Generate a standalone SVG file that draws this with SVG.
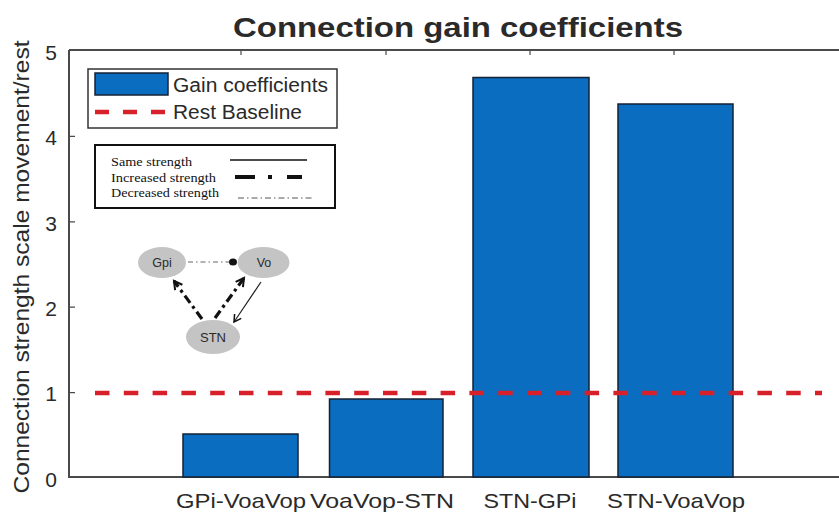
<svg xmlns="http://www.w3.org/2000/svg" width="839" height="517" viewBox="0 0 839 517">
<style>
.sans{font-family:"Liberation Sans",Arial,sans-serif;fill:#2a2a2a}
.serif{font-family:"Liberation Serif","Times New Roman",serif;fill:#111}
.bar{fill:#0a6dbf;stroke:#152235;stroke-width:1.5}
.ax{stroke:#4a4a4a;stroke-width:2;fill:none}
.tick{stroke:#4a4a4a;stroke-width:1.2}
.node{fill:#c4c4c4}
.base{stroke:#d8202a;stroke-width:4.5;fill:none}
</style>
<defs>
<marker id="ah" markerWidth="12" markerHeight="12" refX="9" refY="6" orient="auto" markerUnits="userSpaceOnUse">
<path d="M1,1.5 L9,6 L1,10.5" fill="none" stroke="#111" stroke-width="2"/>
</marker>
<marker id="ahs" markerWidth="10" markerHeight="10" refX="8" refY="5" orient="auto" markerUnits="userSpaceOnUse">
<path d="M1,1 L8,5 L1,9" fill="none" stroke="#111" stroke-width="1.5"/>
</marker>
</defs>
<rect width="839" height="517" fill="#fff"/>
<text class="sans" x="458" y="37" font-size="28" font-weight="bold" text-anchor="middle" fill="#111" textLength="450" lengthAdjust="spacingAndGlyphs">Connection gain coefficients</text>
<g id="axes">
<path class="ax" d="M69,50 H839 M69,50 V477 H839"/>
<path class="tick" d="M69,136.4 h6 M69,221.8 h6 M69,307.2 h6 M69,392.6 h6 M241,50 v5 M386,50 v5 M530,50 v5 M674,50 v5 M241,477 v-5 M386,477 v-5 M530,477 v-5 M674,477 v-5"/>
<g class="sans" font-size="21" text-anchor="end">
<text x="57" y="60">5</text>
<text x="57" y="145">4</text>
<text x="57" y="231">3</text>
<text x="57" y="316">2</text>
<text x="57" y="401">1</text>
<text x="57" y="487">0</text>
</g>
<text class="sans" font-size="22" text-anchor="middle" transform="translate(29,267) rotate(-90)" textLength="453" lengthAdjust="spacingAndGlyphs">Connection strength scale movement/rest</text>
<g class="sans" font-size="21" text-anchor="middle">
<text x="241" y="508" textLength="130" lengthAdjust="spacingAndGlyphs">GPi-VoaVop</text>
<text x="382" y="508" textLength="144" lengthAdjust="spacingAndGlyphs">VoaVop-STN</text>
<text x="530" y="508" textLength="93" lengthAdjust="spacingAndGlyphs">STN-GPi</text>
<text x="676" y="508" textLength="138" lengthAdjust="spacingAndGlyphs">STN-VoaVop</text>
</g>
</g>
<g id="bars">
<rect class="bar" x="183" y="434" width="115" height="43"/>
<rect class="bar" x="329.5" y="399" width="113.5" height="78"/>
<rect class="bar" x="473" y="77.5" width="116" height="399.5"/>
<rect class="bar" x="618" y="104" width="115" height="373"/>
</g>
<path class="base" d="M95,393 H822" stroke-dasharray="14.5 14.3"/>
<g id="legend">
<rect x="88" y="69" width="249" height="59" fill="#fff" stroke="#333" stroke-width="1.5"/>
<rect class="bar" x="95" y="73" width="73" height="22"/>
<text class="sans" x="173" y="92" font-size="19.5" textLength="155" lengthAdjust="spacingAndGlyphs">Gain coefficients</text>
<path class="base" d="M95,112 H168" stroke-dasharray="14 14"/>
<text class="sans" x="173" y="119" font-size="19.5" textLength="129" lengthAdjust="spacingAndGlyphs">Rest Baseline</text>
</g>
<g id="inset-legend">
<rect x="95" y="145" width="240" height="63" fill="#fff" stroke="#111" stroke-width="2"/>
<text class="serif" x="111" y="166" font-size="13" textLength="81" lengthAdjust="spacingAndGlyphs">Same strength</text>
<text class="serif" x="111" y="182" font-size="13" textLength="105" lengthAdjust="spacingAndGlyphs">Increased strength</text>
<text class="serif" x="111" y="197" font-size="13" textLength="108" lengthAdjust="spacingAndGlyphs">Decreased strength</text>
<path d="M230,160 H307" stroke="#111" stroke-width="1.5"/>
<path d="M235,177 H302" stroke="#111" stroke-width="4" stroke-dasharray="20 13 4 15 20"/>
<path d="M238,198 H312" stroke="#555" stroke-width="1" stroke-dasharray="6 3 1.5 3"/>
</g>
<g id="node-gpi">
<ellipse class="node" cx="162" cy="262.5" rx="24" ry="15.5"/>
<text class="sans" x="162" y="267" font-size="12.5" text-anchor="middle">Gpi</text>
</g>
<g id="node-vo">
<ellipse class="node" cx="263.5" cy="262.5" rx="26" ry="15.5"/>
<text class="sans" x="264" y="267" font-size="12.5" text-anchor="middle">Vo</text>
</g>
<g id="node-stn">
<ellipse class="node" cx="213" cy="337" rx="27" ry="17"/>
<text class="sans" x="213" y="342" font-size="13" text-anchor="middle">STN</text>
</g>
<g id="connectors">
<path d="M188,262 H229" stroke="#666" stroke-width="1.2" stroke-dasharray="5 3 1.5 3"/>
<ellipse cx="233" cy="262" rx="4" ry="3.5" fill="#111"/>
<path d="M202,319 L174,281" stroke="#111" stroke-width="3.2" stroke-dasharray="9 4 3 4" marker-end="url(#ah)"/>
<path d="M215,318 L244,278" stroke="#111" stroke-width="3.2" stroke-dasharray="9 4 3 4" marker-end="url(#ah)"/>
<path d="M261,282 L234,322" stroke="#222" stroke-width="1.2" marker-end="url(#ahs)"/>
</g>
</svg>
